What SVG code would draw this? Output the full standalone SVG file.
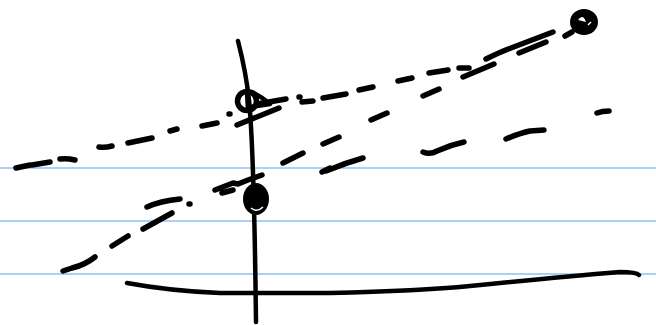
<svg xmlns="http://www.w3.org/2000/svg" width="656" height="325" viewBox="0 0 656 325">
<style>
.rule{stroke:#a9d0f7;stroke-width:2;fill:none}
.ink{stroke:#000;fill:none;stroke-linecap:round;stroke-linejoin:round}
.d{stroke-width:5.5}
.s{stroke-width:4.5}
</style>
<rect width="656" height="325" fill="#fff"/>
<g id="rules">
<line class="rule" x1="0" y1="168" x2="656" y2="168"/>
<line class="rule" x1="0" y1="221" x2="656" y2="221"/>
<line class="rule" x1="0" y1="274" x2="656" y2="274"/>
</g>
<g id="line-top" class="ink d">
<path d="M16,168 L30,165 M32,165 L50,162 M60,159 Q67,158 75,160 M99,147 Q105,148 112,146 M128,143 L152,138 M170,131 L177,129 M202,126 L217,123 M229,114 L230,114"/>
<path d="M257,104 L286,99 M299,97 L300,97 M302,102 L313,101 M323,98 L346,94 M359,90 L373,87 M398,81 L412,78 M429,73 L448,70 M459,68 L469,68"/>
<path d="M486,59 Q500,52 511,48 L553,32 M565,36 L572,32"/>
<path d="M237,125 L279,108 M463,77 L494,64 M519,53 L546,42"/>
</g>
<g id="line-middle" class="ink d">
<path d="M63,271 L72,268 Q85,265 95,257 M112,246 L128,236 M143,229 L172,213 M147,207 Q160,201 180,199 M189,204 L190,204"/>
<path d="M215,190 L233,183 L238,184 L248,180 L262,175 M222,193 L233,190"/>
<path d="M283,163 L303,153 M323,144 L339,137 M371,120 L387,113 M423,96 L439,89"/>
</g>
<g id="line-lower" class="ink d">
<path d="M322,172 L330,168 M326,171 Q345,163 363,158 M423,152 Q430,155 437,151 Q450,145 464,142 M506,139 Q520,133 530,131 L544,130 M597,113 Q602,111 609,111"/>
</g>
<g id="axis" class="ink">
<path class="s" d="M238,41 Q246,72 249,100 Q254,150 256,322"/>
<path class="s" d="M127,283 Q170,291 220,293 L330,293 Q420,291 470,286 Q560,277 620,272 Q636,272 639,275"/>
</g>
<g id="point-upper" class="ink">
<circle stroke-width="5.5" cx="247" cy="101" r="9.5"/>
<path class="s" d="M247,92 L248,110 M252,92 Q262,97 270,104 L250,107"/>
</g>
<g id="point-lower">
<ellipse cx="256" cy="199" rx="13" ry="16" fill="#000"/>
<path d="M251,208 Q257,213 263,207" stroke="#fff" stroke-width="1.5" fill="none"/>
</g>
<g id="point-right">
<ellipse cx="584" cy="22" rx="14" ry="13" fill="#000"/>
<path d="M578,20 Q583,13 586,22 Z" fill="#fff"/>
<path d="M588,25 L591,22" stroke="#fff" stroke-width="1.5"/>
</g>
</svg>
